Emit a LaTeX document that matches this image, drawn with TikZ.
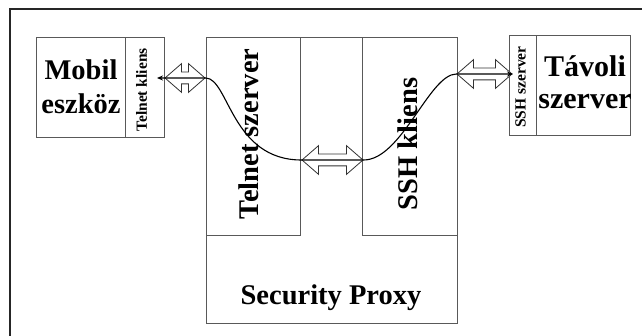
\documentclass[tikz,border=0pt]{standalone}
\usepackage{fontspec}
\setmainfont{Liberation Serif}
\usetikzlibrary{positioning,arrows.meta,shapes.arrows}

\tikzset{
  box/.style={draw=gray!70!black, line width=0.8pt, inner sep=0pt},
  bigtxt/.style={font=\fontsize{28.5}{34}\selectfont\bfseries, align=center, inner sep=0pt},
  smalltxt/.style={font=\fontsize{15.5}{18}\selectfont\bfseries, rotate=90, inner sep=0pt},
  link/.style={double arrow, draw=black!80, line width=0.8pt, fill=white,
    inner xsep=0pt, inner ysep=5.5pt, double arrow head extend=8.5pt,
    double arrow tip angle=82},
}

\begin{document}
\begin{tikzpicture}[x=1pt,y=-1pt]
  \useasboundingbox (0,0) rectangle (642,336);

  % Frame
  \draw[line width=1.3pt, black!85] (10,336) -- (10,9) -- (642,9);

  % Boxes
  \node[box, minimum width=89pt,  minimum height=100pt] (mobil)   at (80.5,87)  {};
  \node[box, minimum width=39pt,  minimum height=100pt] (tkliens) at (144.5,87) {};
  \node[box, minimum width=251pt, minimum height=286pt] (proxy)   at (331.5,180) {};
  \node[box, minimum width=94pt,  minimum height=198pt] (tszerver) at (253,136) {};
  \node[box, minimum width=95pt,  minimum height=198pt] (skliens) at (409.5,136) {};
  \node[box, minimum width=27pt,  minimum height=100pt] (sszerver) at (522.5,85) {};
  \node[box, minimum width=94pt,  minimum height=100pt] (tavoli)  at (583,85)   {};

  % Labels
  \node[bigtxt] (mobilLab) at (81,87) {Mobil\\eszköz};
  \node[bigtxt, font=\fontsize{30}{32}\selectfont\bfseries] (tavoliLab) at (585,82) {Távoli\\szerver};
  \node[bigtxt, rotate=90] (tszLab) at (249,134) {Telnet szerver};
  \node[bigtxt, rotate=90] (skLab) at (407.5,144) {SSH kliens};
  \node[bigtxt, anchor=base] (proxyLab) at (331,305) {Security Proxy};
  \node[smalltxt] (tkLab) at (141.5,90) {Telnet kliens};
  \node[smalltxt] (ssLab) at (520.5,87) {SSH szerver};

  % Hollow double arrows
  \node[link, minimum height=40pt] (arrL) at (185,78)    {};
  \node[link, minimum height=61pt] (arrM) at (332.5,160) {};
  \node[link, minimum height=55pt] (arrR) at (484.5,74)  {};

  % Connection
  \coordinate (tkEnd) at (157,78);
  \coordinate (ssEnd) at (513,74);
  \draw[{Stealth[length=6pt,width=5pt]}-{Stealth[length=6pt,width=5pt]}, line width=1.1pt]
    (tkEnd) -- (arrL.east) .. controls +(23,0) and +(-70,0) .. (arrM.west)
    -- (arrM.east) .. controls +(38,0) and +(-27,0) .. (arrR.west) -- (ssEnd);
\end{tikzpicture}
\end{document}
